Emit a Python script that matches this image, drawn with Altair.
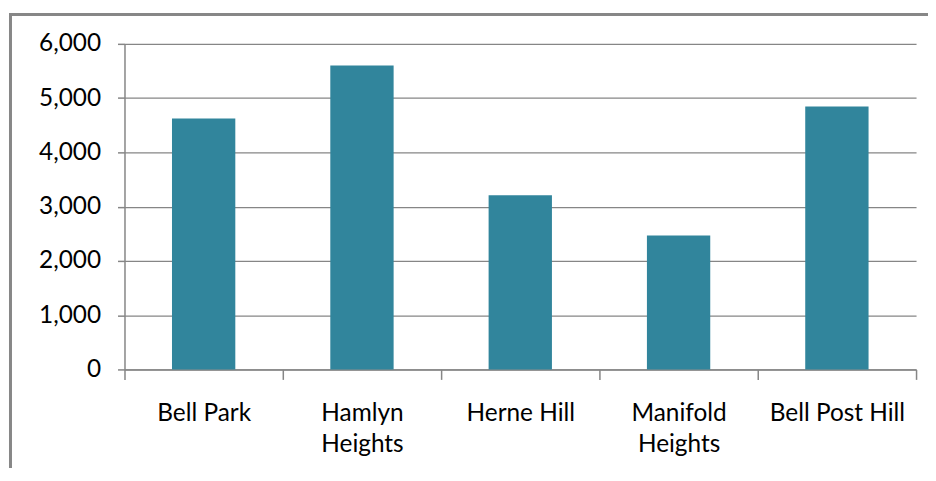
import altair as alt
import pandas as pd

suburbs = ["Bell Park", "Hamlyn Heights", "Herne Hill", "Manifold Heights", "Bell Post Hill"]
values = [4625, 5600, 3210, 2470, 4845]
y_ticks = [0, 1000, 2000, 3000, 4000, 5000, 6000]

df = pd.DataFrame({"suburb": suburbs, "value": values})

GRAY = "#868686"
FONT = "Lato"
FS = 24.5

bars = alt.Chart(df).mark_bar(color="#31859C", width=alt.RelativeBandSize(0.4)).encode(
    x=alt.X(
        "suburb:N", sort=suburbs, title=None,
        scale=alt.Scale(paddingInner=0, paddingOuter=0),
        axis=alt.Axis(
            labelAngle=0, tickBand="extent", tickSize=10, tickColor=GRAY, tickWidth=1.5,
            domainColor=GRAY, domainWidth=1.5, labelPadding=22, labelFontSize=FS,
            labelFont=FONT, labelColor="black", labelLineHeight=31, labelBaseline="top",
            labelExpr="indexof(datum.label, 'Heights') > 0 ? split(datum.label, ' ') : datum.label",
            grid=False,
        ),
    ),
    y=alt.Y(
        "value:Q", title=None, scale=alt.Scale(domain=[0, 6000], nice=False),
        axis=alt.Axis(
            values=y_ticks, format=",.0f", grid=True, gridColor=GRAY, gridWidth=1.3,
            tickSize=7, tickColor=GRAY, tickWidth=1.5, domainColor=GRAY, domainWidth=1.5,
            labelPadding=17, labelFontSize=FS, labelFont=FONT, labelColor="black",
        ),
    ),
)

frame = alt.Chart(pd.DataFrame({"f": [0]})).mark_rect(
    filled=False, stroke="#878787", strokeWidth=3
).encode(
    x=alt.value(-114.5), x2=alt.value(1000), y=alt.value(-29.5), y2=alt.value(600)
)

chart = alt.layer(frame, bars).properties(
    width=795, height=327,
    padding={"left": 117, "top": 35, "right": 12, "bottom": 98},
    autosize=alt.AutoSizeParams(type="none"),
).configure_view(strokeWidth=0)

chart.save("out.html", embed_options={"renderer": "svg", "actions": False})
